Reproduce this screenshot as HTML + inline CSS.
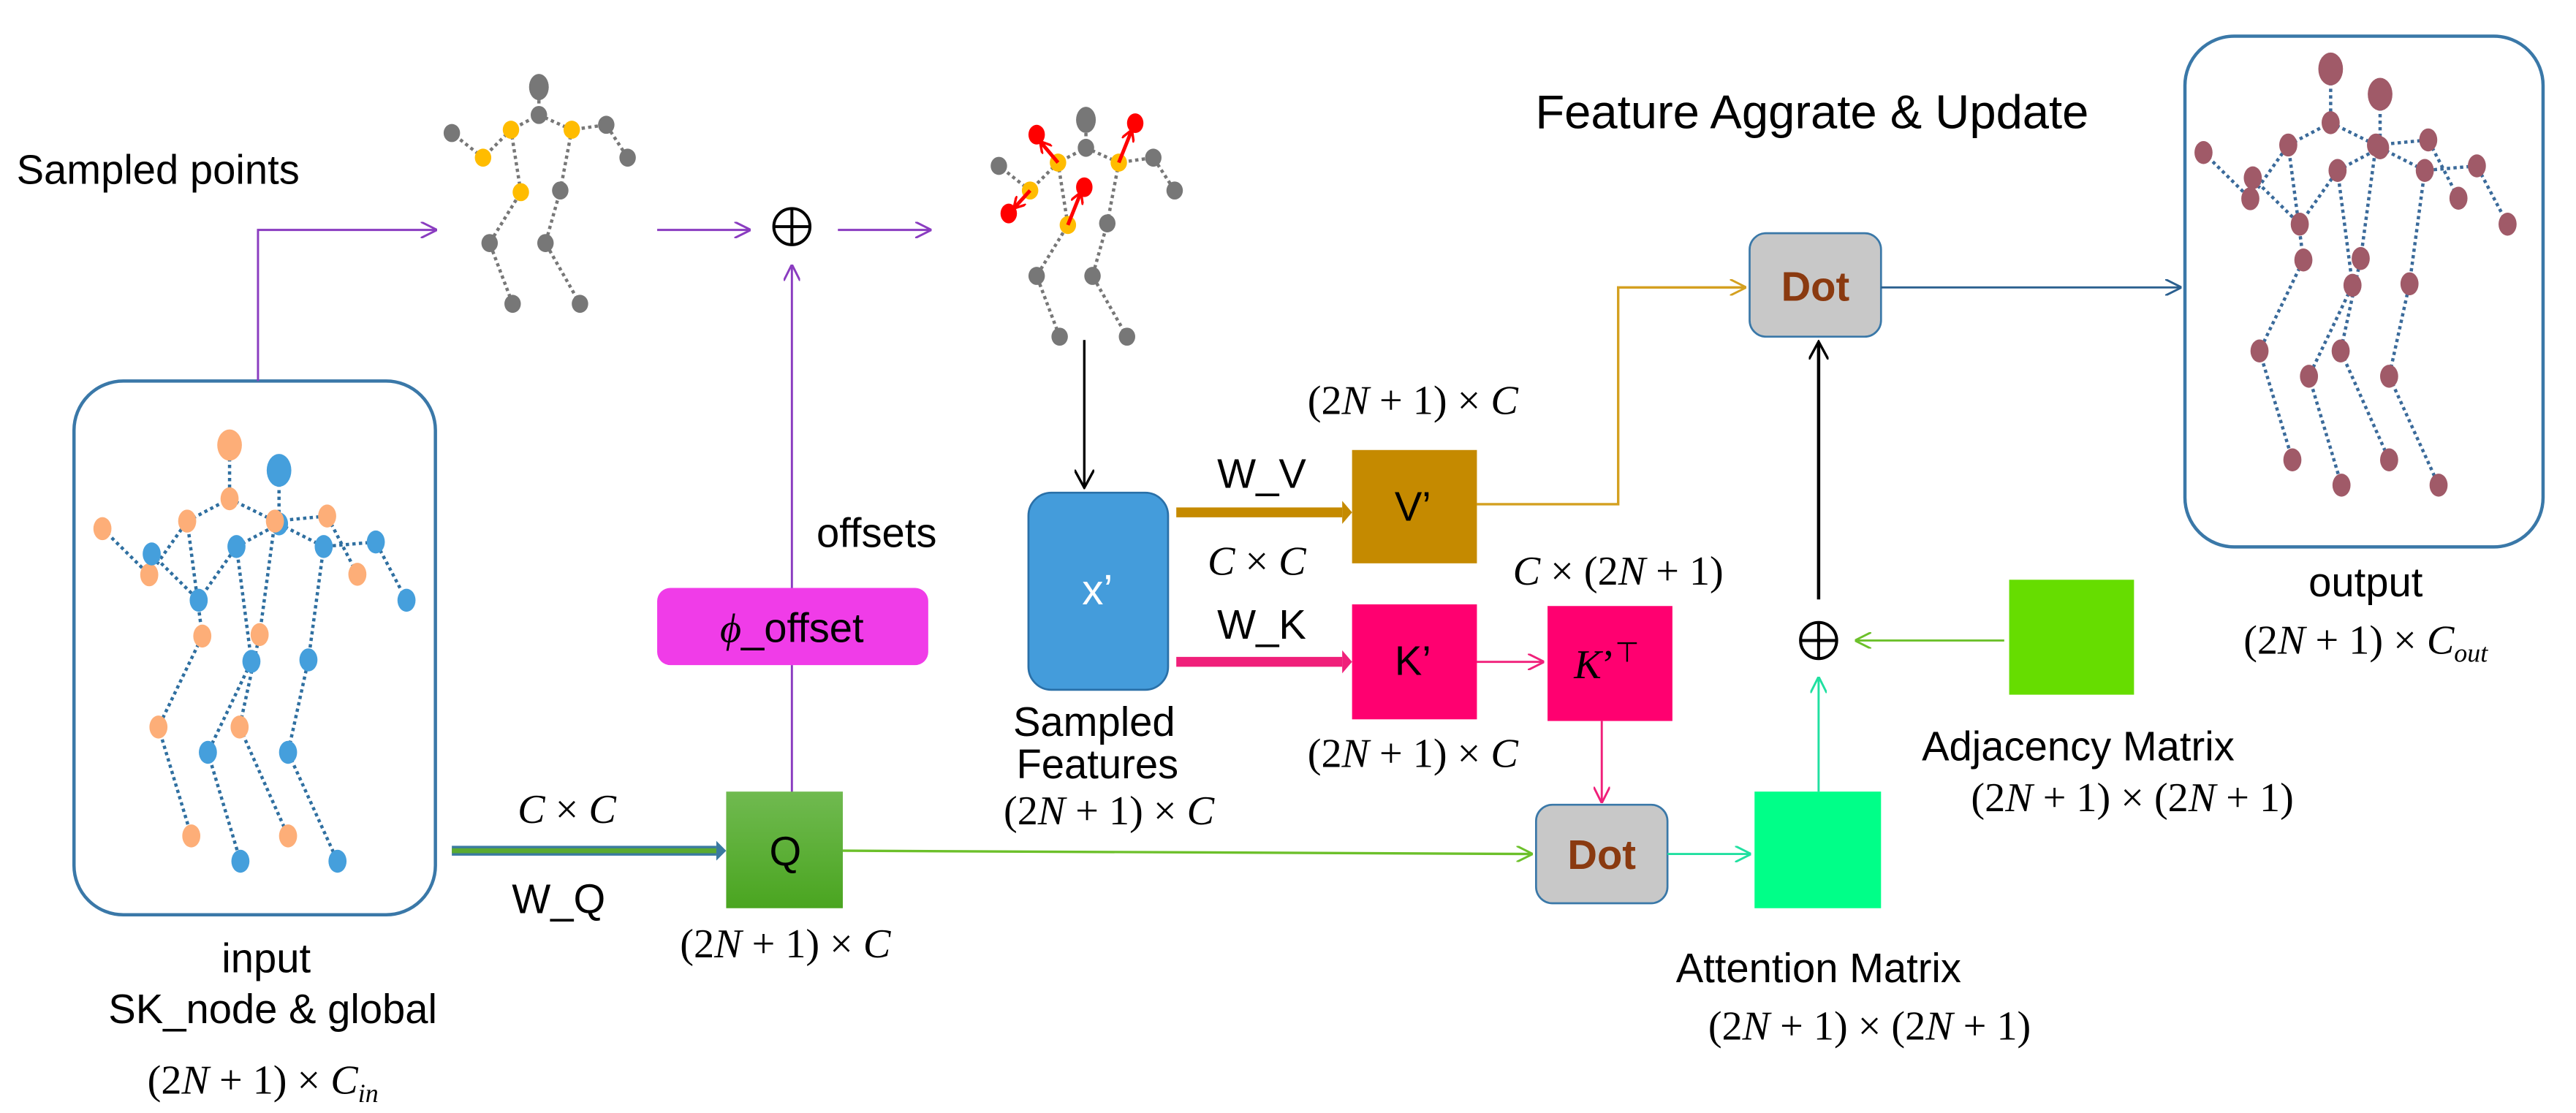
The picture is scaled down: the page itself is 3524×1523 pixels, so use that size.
<!DOCTYPE html>
<html><head><meta charset="utf-8"><style>
html,body{margin:0;padding:0;background:#fff}
svg{display:block}
text{font-family:"Liberation Sans",sans-serif}
.m{font-family:"Liberation Serif",serif;font-size:25px}
.i{font-style:italic}
</style></head><body>
<svg width="3524" height="1523" viewBox="0 0 1568 677.7" xmlns="http://www.w3.org/2000/svg">
<defs>
<marker id="ap" markerWidth="10" markerHeight="10" refX="9" refY="5" orient="auto" markerUnits="userSpaceOnUse"><path d="M0,0 L10,5 L0,10" fill="none" stroke="#8a3cc0" stroke-width="1.3"/></marker>
<marker id="ak" markerWidth="12" markerHeight="12" refX="10" refY="6" orient="auto" markerUnits="userSpaceOnUse"><path d="M0,0 L11,6 L0,12" fill="none" stroke="#000" stroke-width="1.5"/></marker>
<marker id="ag" markerWidth="10" markerHeight="10" refX="9" refY="5" orient="auto" markerUnits="userSpaceOnUse"><path d="M0,0 L10,5 L0,10" fill="none" stroke="#6cc02a" stroke-width="1.3"/></marker>
<marker id="ao" markerWidth="10" markerHeight="10" refX="9" refY="5" orient="auto" markerUnits="userSpaceOnUse"><path d="M0,0 L10,5 L0,10" fill="none" stroke="#d4a020" stroke-width="1.3"/></marker>
<marker id="ab" markerWidth="10" markerHeight="10" refX="9" refY="5" orient="auto" markerUnits="userSpaceOnUse"><path d="M0,0 L10,5 L0,10" fill="none" stroke="#2a5f8f" stroke-width="1.3"/></marker>
<marker id="apk" markerWidth="10" markerHeight="10" refX="9" refY="5" orient="auto" markerUnits="userSpaceOnUse"><path d="M0,0 L10,5 L0,10" fill="none" stroke="#f0207a" stroke-width="1.3"/></marker>
<marker id="at" markerWidth="10" markerHeight="10" refX="9" refY="5" orient="auto" markerUnits="userSpaceOnUse"><path d="M0,0 L10,5 L0,10" fill="none" stroke="#20e0a0" stroke-width="1.3"/></marker>
<marker id="ar" markerWidth="8" markerHeight="8" refX="7" refY="4" orient="auto" markerUnits="userSpaceOnUse"><path d="M0,0 L7,4 L0,8" fill="none" stroke="#f00" stroke-width="1.5"/></marker>
<linearGradient id="gq" x1="0" y1="0" x2="0" y2="1"><stop offset="0" stop-color="#70ba50"/><stop offset="1" stop-color="#4aa520"/></linearGradient>
<g id="skel">
<g stroke="#777" stroke-width="2" stroke-dasharray="2,2" fill="none">
<path d="M661,73 L661,90 L644,99 L627,116 L608,101 M661,90 L681,99 L702,96 L715,116 M644,99 L650,137 L631,168 L645,205 M681,99 L674,136 L665,168 L686,205"/>
</g>
<g fill="#777"><ellipse cx="661" cy="73" rx="6" ry="8"/><ellipse cx="661" cy="90" rx="5" ry="5.5"/><ellipse cx="608" cy="101" rx="5" ry="5.5"/><ellipse cx="702" cy="96" rx="5" ry="5.5"/><ellipse cx="715" cy="116" rx="5" ry="5.5"/><ellipse cx="674" cy="136" rx="5" ry="5.5"/><ellipse cx="631" cy="168" rx="5" ry="5.5"/><ellipse cx="665" cy="168" rx="5" ry="5.5"/><ellipse cx="645" cy="205" rx="5" ry="5.5"/><ellipse cx="686" cy="205" rx="5" ry="5.5"/></g>
<g fill="#ffbc00"><ellipse cx="644" cy="99" rx="5" ry="5.5"/><ellipse cx="681" cy="99" rx="5" ry="5.5"/><ellipse cx="627" cy="116" rx="5" ry="5.5"/><ellipse cx="650" cy="137" rx="5" ry="5.5"/></g>
</g>
<g id="inp">
<path d="M139.7,271 L139.7,303.7 L113.9,317.3 L90.8,350 L62.3,321.9 M139.7,303.7 L167.3,317.3 L199.1,314.2 L217.5,349.7 M113.9,317.3 L123.1,387.3 L96.4,442.7 L116.4,509 M167.3,317.3 L158,386.4 L145.8,442.7 L175.3,509 M169.8,286.4 L169.8,319 L143.9,332.8 L120.9,365.5 L92.3,337.3 M169.8,319 L197,332.8 L228.7,330 L247.4,365.5 M143.9,332.8 L153,402.7 L126.5,458.1 L146.3,524.4 M197,332.8 L187.7,401.8 L175.3,458.1 L205.4,524.4" stroke="currentColor" stroke-width="2" stroke-dasharray="2,2" fill="none"/>
</g>
</defs>

<!-- input box -->
<rect x="45" y="232" width="220" height="325" rx="30" fill="none" stroke="#3a78a8" stroke-width="2"/>
<g color="#2f6fa0"><use href="#inp"/></g>
<g fill="#fdae78"><ellipse cx="139.7" cy="271" rx="7.5" ry="9.5"/><ellipse cx="139.7" cy="303.7" rx="5.5" ry="7"/><ellipse cx="113.9" cy="317.3" rx="5.5" ry="7"/><ellipse cx="62.3" cy="321.9" rx="5.5" ry="7"/><ellipse cx="90.8" cy="350" rx="5.5" ry="7"/><ellipse cx="199.1" cy="314.2" rx="5.5" ry="7"/><ellipse cx="217.5" cy="349.7" rx="5.5" ry="7"/><ellipse cx="123.1" cy="387.3" rx="5.5" ry="7"/><ellipse cx="158" cy="386.4" rx="5.5" ry="7"/><ellipse cx="96.4" cy="442.7" rx="5.5" ry="7"/><ellipse cx="145.8" cy="442.7" rx="5.5" ry="7"/><ellipse cx="116.4" cy="509" rx="5.5" ry="7"/><ellipse cx="175.3" cy="509" rx="5.5" ry="7"/></g>
<g fill="#459fdc"><ellipse cx="169.8" cy="286.4" rx="7.5" ry="10"/><ellipse cx="169.8" cy="319" rx="5.5" ry="7"/><ellipse cx="92.3" cy="337.3" rx="5.5" ry="7"/><ellipse cx="143.9" cy="332.8" rx="5.5" ry="7"/><ellipse cx="197" cy="332.8" rx="5.5" ry="7"/><ellipse cx="228.7" cy="330" rx="5.5" ry="7"/><ellipse cx="247.4" cy="365.5" rx="5.5" ry="7"/><ellipse cx="120.9" cy="365.5" rx="5.5" ry="7"/><ellipse cx="153" cy="402.7" rx="5.5" ry="7"/><ellipse cx="187.7" cy="401.8" rx="5.5" ry="7"/><ellipse cx="126.5" cy="458.1" rx="5.5" ry="7"/><ellipse cx="175.3" cy="458.1" rx="5.5" ry="7"/><ellipse cx="146.3" cy="524.4" rx="5.5" ry="7"/><ellipse cx="205.4" cy="524.4" rx="5.5" ry="7"/></g>
<ellipse cx="167.3" cy="317.3" rx="5.5" ry="7" fill="#fdae78"/>
<text x="162" y="592" font-size="25" text-anchor="middle">input</text>
<text x="166" y="623" font-size="25" text-anchor="middle">SK_node &amp; global</text>
<text x="160" y="666" class="m" text-anchor="middle">(2<tspan class="i">N</tspan> + 1) × <tspan class="i">C</tspan><tspan class="i" font-size="16" dy="5">in</tspan></text>

<!-- sampled points -->
<text x="10" y="112" font-size="25">Sampled points</text>
<path d="M157,232 L157,140 L265,140" fill="none" stroke="#8a3cc0" stroke-width="1.3" marker-end="url(#ap)"/>
<use href="#skel" transform="translate(-333,-20)"/>
<path d="M400,140 L456,140" stroke="#8a3cc0" stroke-width="1.3" marker-end="url(#ap)"/>
<circle cx="482" cy="138" r="11" fill="none" stroke="#000" stroke-width="1.8"/><path d="M471,138 L493,138 M482,127 L482,149" stroke="#000" stroke-width="1.8"/>
<path d="M510,140 L566,140" stroke="#8a3cc0" stroke-width="1.3" marker-end="url(#ap)"/>
<use href="#skel"/>
<g stroke="#f00" stroke-width="2.2" fill="none" marker-end="url(#ar)"><path d="M644,99 L633,86"/><path d="M681,99 L689,79"/><path d="M650,137 L658,117"/><path d="M627,116 L617,127"/></g>
<g fill="#f00"><ellipse cx="631" cy="82" rx="5" ry="6"/><ellipse cx="691" cy="75" rx="5" ry="6"/><ellipse cx="660" cy="114" rx="5" ry="6"/><ellipse cx="614" cy="130" rx="5" ry="6"/></g>

<!-- offsets -->
<path d="M482,358 L482,162" stroke="#8a3cc0" stroke-width="1.3" marker-end="url(#ap)"/>
<text x="497" y="333" font-size="25">offsets</text>
<rect x="400" y="358" width="165" height="47" rx="8" fill="#f03ce8"/>
<text x="482" y="391" font-size="25" text-anchor="middle"><tspan font-family="Liberation Serif" font-style="italic">ϕ</tspan>_offset</text>
<path d="M482,483 L482,405" stroke="#8a3cc0" stroke-width="1.3"/>

<!-- W_Q -->
<text x="345" y="501" class="m" text-anchor="middle"><tspan class="i">C</tspan> × <tspan class="i">C</tspan></text>
<path d="M275,518 L436,518" stroke="#3a7aa0" stroke-width="6"/>
<path d="M436,512 L442,518 L436,524 Z" fill="#3a7aa0"/>
<path d="M275,518 L436,518" stroke="#5aaa30" stroke-width="3"/>
<text x="340" y="556" font-size="25" text-anchor="middle">W_Q</text>
<rect x="442" y="482" width="71" height="71" fill="url(#gq)"/>
<text x="478" y="527" font-size="25" fill="#000" text-anchor="middle">Q</text>
<text x="478" y="583" class="m" text-anchor="middle">(2<tspan class="i">N</tspan> + 1) × <tspan class="i">C</tspan></text>
<path d="M513,518 L932,520" stroke="#6cc02a" stroke-width="1.5" marker-end="url(#ag)"/>

<!-- x' -->
<path d="M660,207 L660,296" stroke="#000" stroke-width="1.5" marker-end="url(#ak)"/>
<rect x="626" y="300" width="85" height="120" rx="14" fill="#449cdb" stroke="#2a70a8" stroke-width="1.2"/>
<text x="668" y="368" font-size="26" fill="#fff" text-anchor="middle">x’</text>
<text x="666" y="448" font-size="25" text-anchor="middle">Sampled</text>
<text x="668" y="474" font-size="25" text-anchor="middle">Features</text>
<text x="675" y="502" class="m" text-anchor="middle">(2<tspan class="i">N</tspan> + 1) × <tspan class="i">C</tspan></text>

<!-- V -->
<text x="860" y="252" class="m" text-anchor="middle">(2<tspan class="i">N</tspan> + 1) × <tspan class="i">C</tspan></text>
<text x="768" y="297" font-size="25" text-anchor="middle">W_V</text>
<path d="M716,312 L817,312" stroke="#c58a00" stroke-width="6"/>
<path d="M817,305 L823,312 L817,319 Z" fill="#c58a00"/>
<rect x="823" y="274" width="76" height="69" fill="#c58a00"/>
<text x="860" y="317" font-size="25" fill="#000" text-anchor="middle">V’</text>
<text x="765" y="350" class="m" text-anchor="middle"><tspan class="i">C</tspan> × <tspan class="i">C</tspan></text>
<text x="985" y="356" class="m" text-anchor="middle"><tspan class="i">C</tspan> × (2<tspan class="i">N</tspan> + 1)</text>
<path d="M899,307 L985,307 L985,175 L1062,175" fill="none" stroke="#d4a020" stroke-width="1.5" marker-end="url(#ao)"/>

<!-- K -->
<text x="768" y="389" font-size="25" text-anchor="middle">W_K</text>
<path d="M716,403 L817,403" stroke="#f0207a" stroke-width="6"/>
<path d="M817,396 L823,403 L817,410 Z" fill="#f0207a"/>
<rect x="823" y="368" width="76" height="70" fill="#ff0070"/>
<text x="860" y="411" font-size="25" fill="#000" text-anchor="middle">K’</text>
<text x="860" y="467" class="m" text-anchor="middle">(2<tspan class="i">N</tspan> + 1) × <tspan class="i">C</tspan></text>
<path d="M899,403 L939,403" stroke="#f0207a" stroke-width="1.3" marker-end="url(#apk)"/>
<rect x="942" y="369" width="76" height="70" fill="#ff0070"/>
<text x="978" y="413" class="m" font-size="25" text-anchor="middle"><tspan class="i">K</tspan>’<tspan font-family="Liberation Sans" font-size="17" dy="-10">⊤</tspan></text>
<path d="M975,439 L975,488" stroke="#f0207a" stroke-width="1.3" marker-end="url(#apk)"/>

<!-- Dot bottom -->
<rect x="935" y="490" width="80" height="60" rx="10" fill="#c8c8c8" stroke="#3a78a8" stroke-width="1.2"/>
<text x="975" y="529" font-size="25" font-weight="bold" fill="#8a3a10" text-anchor="middle">Dot</text>
<path d="M1015,520 L1065,520" stroke="#20e0a0" stroke-width="1.3" marker-end="url(#at)"/>
<rect x="1068" y="482" width="77" height="71" fill="#00ff88"/>
<text x="1107" y="598" font-size="25" text-anchor="middle">Attention Matrix</text>
<text x="1138" y="633" class="m" text-anchor="middle">(2<tspan class="i">N</tspan> + 1) × (2<tspan class="i">N</tspan> + 1)</text>
<path d="M1107,482 L1107,413" stroke="#20e0a0" stroke-width="1.3" marker-end="url(#at)"/>
<circle cx="1107" cy="390" r="11" fill="none" stroke="#000" stroke-width="1.8"/><path d="M1096,390 L1118,390 M1107,379 L1107,401" stroke="#000" stroke-width="1.8"/>
<path d="M1107,365 L1107,209" stroke="#000" stroke-width="2" marker-end="url(#ak)"/>
<rect x="1223" y="353" width="76" height="70" fill="#66dd00"/>
<path d="M1220,390 L1130,390" stroke="#6cc02a" stroke-width="1.3" marker-end="url(#ag)"/>
<text x="1265" y="463" font-size="25" text-anchor="middle">Adjacency Matrix</text>
<text x="1298" y="494" class="m" text-anchor="middle">(2<tspan class="i">N</tspan> + 1) × (2<tspan class="i">N</tspan> + 1)</text>

<!-- Dot top -->
<text x="1103" y="78" font-size="29" text-anchor="middle">Feature Aggrate &amp; Update</text>
<rect x="1065" y="142" width="80" height="63" rx="10" fill="#c8c8c8" stroke="#3a78a8" stroke-width="1.2"/>
<text x="1105" y="183" font-size="25" font-weight="bold" fill="#8a3a10" text-anchor="middle">Dot</text>
<path d="M1145,175 L1327,175" stroke="#2a5f8f" stroke-width="1.3" marker-end="url(#ab)"/>

<!-- output -->
<rect x="1330" y="22" width="218" height="311" rx="30" fill="none" stroke="#3a78a8" stroke-width="2"/>
<g transform="translate(1279,-229)" color="#3a6a9a">
<use href="#inp"/>
<g fill="#a05a68"><ellipse cx="139.7" cy="271" rx="7.5" ry="10"/><ellipse cx="169.8" cy="286.4" rx="7.5" ry="10"/><ellipse cx="139.7" cy="303.7" rx="5.5" ry="7"/><ellipse cx="113.9" cy="317.3" rx="5.5" ry="7"/><ellipse cx="62.3" cy="321.9" rx="5.5" ry="7"/><ellipse cx="90.8" cy="350" rx="5.5" ry="7"/><ellipse cx="199.1" cy="314.2" rx="5.5" ry="7"/><ellipse cx="217.5" cy="349.7" rx="5.5" ry="7"/><ellipse cx="123.1" cy="387.3" rx="5.5" ry="7"/><ellipse cx="158" cy="386.4" rx="5.5" ry="7"/><ellipse cx="96.4" cy="442.7" rx="5.5" ry="7"/><ellipse cx="145.8" cy="442.7" rx="5.5" ry="7"/><ellipse cx="116.4" cy="509" rx="5.5" ry="7"/><ellipse cx="175.3" cy="509" rx="5.5" ry="7"/><ellipse cx="169.8" cy="319" rx="5.5" ry="7"/><ellipse cx="92.3" cy="337.3" rx="5.5" ry="7"/><ellipse cx="143.9" cy="332.8" rx="5.5" ry="7"/><ellipse cx="197" cy="332.8" rx="5.5" ry="7"/><ellipse cx="228.7" cy="330" rx="5.5" ry="7"/><ellipse cx="247.4" cy="365.5" rx="5.5" ry="7"/><ellipse cx="120.9" cy="365.5" rx="5.5" ry="7"/><ellipse cx="153" cy="402.7" rx="5.5" ry="7"/><ellipse cx="187.7" cy="401.8" rx="5.5" ry="7"/><ellipse cx="126.5" cy="458.1" rx="5.5" ry="7"/><ellipse cx="175.3" cy="458.1" rx="5.5" ry="7"/><ellipse cx="146.3" cy="524.4" rx="5.5" ry="7"/><ellipse cx="205.4" cy="524.4" rx="5.5" ry="7"/><ellipse cx="167.3" cy="317.3" rx="5.5" ry="7"/></g>
</g>
<text x="1440" y="363" font-size="25" text-anchor="middle">output</text>
<text x="1440" y="398" class="m" text-anchor="middle">(2<tspan class="i">N</tspan> + 1) × <tspan class="i">C</tspan><tspan class="i" font-size="16" dy="5">out</tspan></text>
</svg>
</body></html>
